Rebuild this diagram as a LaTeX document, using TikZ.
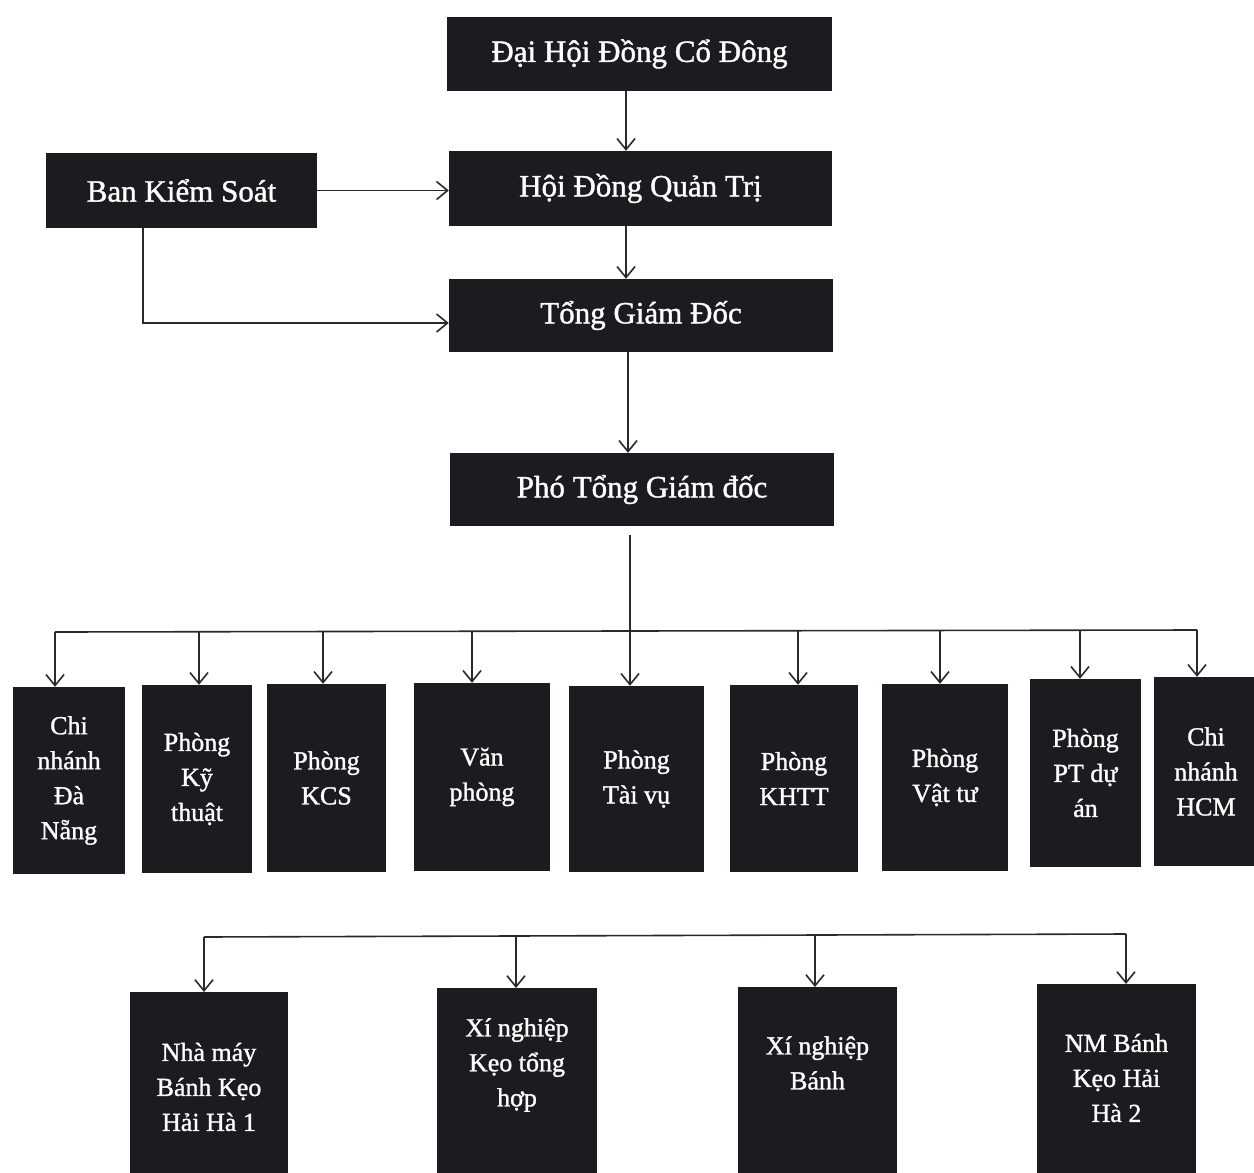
\documentclass[tikz,border=0pt]{standalone}
\usepackage{fontspec}
\setmainfont{Liberation Serif}
\newfontfamily\boxfont{Liberation Serif}[BoldFont=Liberation Serif, BoldFeatures={FakeBold=1.2}]
\usetikzlibrary{arrows.meta,calc}
\definecolor{boxblack}{HTML}{1D1B1F}
\definecolor{linegray}{HTML}{2A2A2A}
\tikzset{
  orgbox/.style={rectangle, fill=boxblack, draw=none, text=white, inner sep=0pt, align=center},
  bigbox/.style={orgbox, font=\boxfont\bfseries\fontsize{31}{37}\selectfont},
  smallbox/.style={orgbox, font=\boxfont\bfseries\fontsize{26}{35}\selectfont},
  boxlabel/.style={text=white, inner sep=0pt, align=center, font=\boxfont\bfseries\fontsize{26}{35}\selectfont},
  arr/.style={draw=linegray, line width=1.6pt, -{Straight Barb[length=11pt,width=18pt,line width=1.6pt]}},
  ln/.style={draw=linegray, line width=1.6pt}
}
\begin{document}
\begin{tikzpicture}[x=1pt,y=-1pt]
\useasboundingbox (0,0) rectangle (1254,1173);
\fill[white] (0,0) rectangle (1254,1173);
\clip (0,0) rectangle (1254,1173);

% top chain
\node[bigbox, minimum width=385pt, minimum height=74pt] (dh) at (639.5,54) {Đại Hội Đồng Cổ Đông};
\node[bigbox, minimum width=383pt, minimum height=75pt] (hd) at (640.5,188.5) {Hội Đồng Quản Trị};
\node[bigbox, minimum width=271pt, minimum height=75pt] (bks) at (181.5,190.5) {Ban Kiểm Soát};
\node[bigbox, minimum width=384pt, minimum height=73pt] (tgd) at (641,315.5) {Tổng Giám Đốc};
\node[bigbox, minimum width=384pt, minimum height=73pt] (ptgd) at (642,489.5) {Phó Tổng Giám đốc};

\draw[arr] ([xshift=-13.5pt]dh.south) -- ([xshift=-14.5pt]hd.north);
\draw[arr] ([xshift=-14.5pt]hd.south) -- ([xshift=-15pt]tgd.north);
\draw[arr] (bks.east) -- (bks.east -| hd.west);
\draw[arr] ([xshift=-38.5pt]bks.south) |- ([yshift=-7.5pt]tgd.west);
\draw[arr] ([xshift=-13pt]tgd.south) -- ([xshift=-14pt]ptgd.north);

% department row
\node[smallbox, minimum width=112pt, minimum height=187pt] (r1) at (69,780.5) {Chi\\nhánh\\Đà\\Nẵng};
\node[smallbox, minimum width=110pt, minimum height=188pt] (r2) at (197,779) {Phòng\\Kỹ\\thuật};
\node[smallbox, minimum width=119pt, minimum height=188pt] (r3) at (326.5,778) {Phòng\\KCS};
\node[smallbox, minimum width=136pt, minimum height=188pt] (r4) at (482,777) {Văn\\phòng};
\node[smallbox, minimum width=135pt, minimum height=186pt] (r5) at (636.5,779) {Phòng\\Tài vụ};
\node[smallbox, minimum width=128pt, minimum height=187pt] (r6) at (794,778.5) {Phòng\\KHTT};
\node[smallbox, minimum width=126pt, minimum height=187pt] (r7) at (945,777.5) {Phòng\\Vật tư};
\node[smallbox, minimum width=111pt, minimum height=188pt] (r8) at (1085.5,773) {Phòng\\PT dự\\án};
\node[smallbox, minimum width=105pt, minimum height=189pt] (r9) at (1206,771.5) {Chi\\nhánh\\HCM};

\coordinate (busL) at (55,632);
\coordinate (busR) at (1197,630);
\draw[ln] (busL) -- (busR);
\coordinate (s1) at (55,632);
\coordinate (s2) at (199,632);
\coordinate (s3) at (323,632);
\coordinate (s4) at (472,631);
\coordinate (s6) at (798,631);
\coordinate (s7) at (940,631);
\coordinate (s8) at (1080,630);
\coordinate (s9) at (1197,630);
\draw[arr] (s1) -- (s1 |- r1.north);
\draw[arr] (s2) -- (s2 |- r2.north);
\draw[arr] (s3) -- (s3 |- r3.north);
\draw[arr] (s4) -- (s4 |- r4.north);
\draw[arr] (s6) -- (s6 |- r6.north);
\draw[arr] (s7) -- (s7 |- r7.north);
\draw[arr] (s8) -- (s8 |- r8.north);
\draw[arr] (s9) -- (s9 |- r9.north);
\coordinate (pt) at ([xshift=-12pt,yshift=-9pt]ptgd.south);
\draw[arr] (pt) -- (pt |- r5.north);

% factory row
\node[orgbox, anchor=north, minimum width=158pt, minimum height=200pt] (f1) at (209,992) {};
\node[orgbox, anchor=north, minimum width=160pt, minimum height=205pt] (f2) at (517,988) {};
\node[orgbox, anchor=north, minimum width=159pt, minimum height=205pt] (f3) at (817.5,987) {};
\node[orgbox, anchor=north, minimum width=159pt, minimum height=210pt] (f4) at (1116.5,984) {};
\node[boxlabel] (f1t) at (209,1087) {Nhà máy\\Bánh Kẹo\\Hải Hà 1};
\node[boxlabel] (f2t) at (517,1065) {Xí nghiệp\\Kẹo tổng\\hợp};
\node[boxlabel] (f3t) at (817.5,1063) {Xí nghiệp\\Bánh};
\node[boxlabel] (f4t) at (1116.5,1078) {NM Bánh\\Kẹo Hải\\Hà 2};

\coordinate (b1) at (204,937);
\coordinate (b2) at (516,936);
\coordinate (b3) at (815,935);
\coordinate (b4) at (1126,934);
\draw[ln] (b1) -- (b4);
\draw[arr] (b1) -- (b1 |- f1.north);
\draw[arr] (b2) -- (b2 |- f2.north);
\draw[arr] (b3) -- (b3 |- f3.north);
\draw[arr] (b4) -- (b4 |- f4.north);
\end{tikzpicture}
\end{document}
